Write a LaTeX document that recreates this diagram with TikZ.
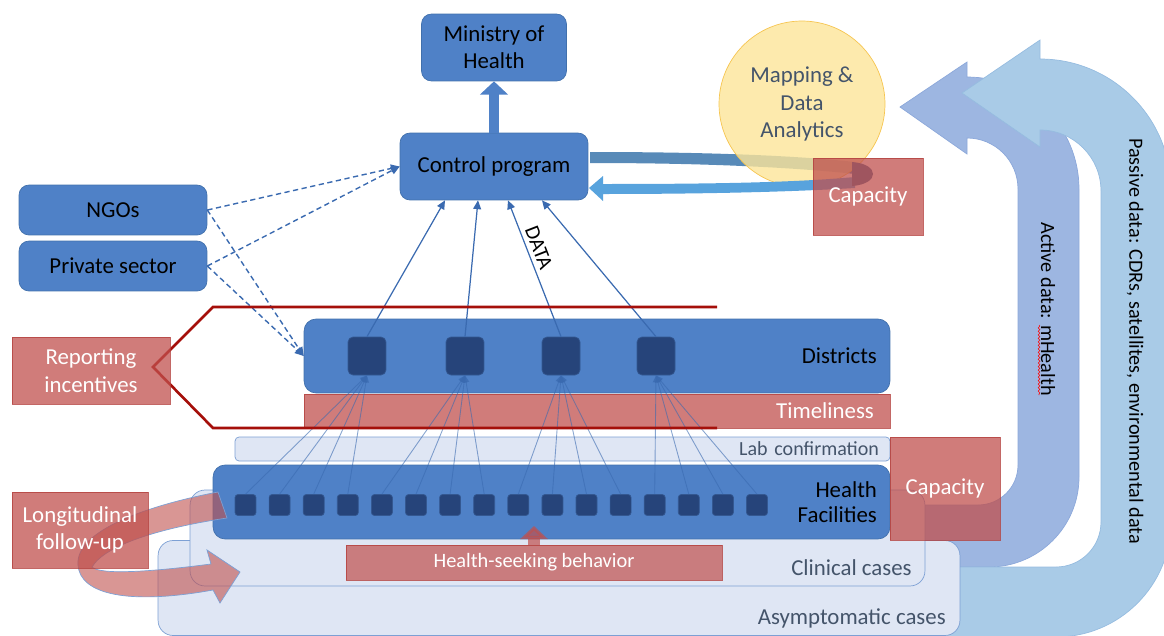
\documentclass[tikz,border=0pt]{standalone}
\usepackage{fontspec}
\setmainfont{Carlito}
\usepackage{tikz}
\usepackage{xcolor}
\usetikzlibrary{arrows,arrows.meta,backgrounds,shapes,decorations.pathmorphing}
\definecolor{boxblue}{RGB}{79,129,199}
\definecolor{boxline}{RGB}{65,112,172}
\definecolor{sqdark}{RGB}{38,68,122}
\definecolor{sqline}{RGB}{52,88,145}
\definecolor{redfill}{RGB}{192,80,77}
\definecolor{redline}{RGB}{180,65,62}
\definecolor{hexred}{RGB}{165,15,10}
\definecolor{paleblue}{RGB}{223,230,244}
\definecolor{paleline}{RGB}{125,160,212}
\definecolor{slate}{RGB}{68,84,106}
\definecolor{activeblue}{RGB}{157,182,225}
\definecolor{activeline}{RGB}{140,168,218}
\definecolor{passiveblue}{RGB}{169,203,231}
\definecolor{passiveline}{RGB}{150,188,224}
\definecolor{mapyellow}{RGB}{252,229,153}
\definecolor{mapline}{RGB}{246,197,80}
\definecolor{uptop}{RGB}{88,138,184}
\definecolor{upback}{RGB}{88,163,221}
\definecolor{upend}{RGB}{62,100,150}
\definecolor{linkblue}{RGB}{58,106,176}
\tikzstyle{bluebox}	=[rectangle, rounded corners=0.2cm, draw=boxline, fill=boxblue, line width=0.4pt, inner sep=0pt, align=center, font=\fontsize{13}{15.6}\selectfont]
\tikzstyle{redbox}	=[rectangle, draw=redline, fill=redfill, fill opacity=0.75, draw opacity=0.8, text opacity=1, text=white, line width=0.4pt, inner sep=0pt, align=center, font=\fontsize{13}{15.6}\selectfont]
\tikzstyle{palebox}	=[rectangle, rounded corners=0.3cm, draw=paleline, fill=paleblue, line width=0.4pt, inner sep=0pt]
\tikzstyle{distsq}	=[rectangle, rounded corners=0.1cm, draw=sqline, fill=sqdark, minimum size=0.76cm, inner sep=0pt]
\tikzstyle{facsq}	=[rectangle, rounded corners=0.06cm, draw=sqline, fill=sqdark, minimum size=0.42cm, inner sep=0pt]
\tikzstyle{casetext}	=[inner sep=0pt, text=slate, font=\fontsize{13}{15.6}\selectfont]
\tikzstyle{sidetext}	=[inner sep=0pt, text=black, rotate=-90, font=\fontsize{11.5}{13.8}\selectfont]
\tikzstyle{datatext}	=[inner sep=2.5pt, text=black, font=\fontsize{12}{14}\selectfont]
\tikzstyle{mapnode}	=[circle, draw=mapline, fill=mapyellow, fill opacity=0.8, text opacity=1, text=slate, minimum size=3.32cm, inner sep=0pt, align=center, font=\fontsize{13}{15.6}\selectfont]
\tikzstyle{edgefac}	=[draw, -{Triangle[length=4pt,width=3.5pt]}, linkblue, opacity=0.6, line width=0.5pt]
\tikzstyle{edgeup}	=[draw, -{Triangle[length=5pt,width=4.5pt]}, linkblue, line width=0.7pt]
\tikzstyle{edgedash}	=[draw, -{Triangle[length=5pt,width=4.5pt]}, linkblue, line width=0.8pt, dash pattern=on 3pt off 2pt]
\tikzstyle{edgefat}	=[draw, -{Triangle[length=7.5pt,width=15.5pt]}, boxblue, line width=6.2pt]
\tikzstyle{edgehs}	=[draw, -{Triangle[length=7.4pt,width=15.3pt]}, redfill, opacity=0.7, line width=7pt]
\tikzstyle{hexline}	=[draw, hexred, line width=1.5pt]
\tikzstyle{loopband}	=[fill=redfill, fill opacity=0.6, draw=paleline, line width=0.4pt]
\tikzstyle{loopup}	=[fill=uptop]
\tikzstyle{loopback}	=[fill=upback]
\tikzstyle{loopend}	=[fill=upend]
\tikzstyle{bandA}	=[fill=activeblue, draw=activeline, line width=0.4pt]
\tikzstyle{bandP}	=[fill=passiveblue, draw=passiveline, line width=0.4pt]
\tikzstyle{squig}	=[draw, red, line width=0.3pt, decorate, decoration={snake, amplitude=0.5pt, segment length=2pt}]
\begin{document}
\begin{tikzpicture}[x=0.02cm, y=-0.02cm]
   		\useasboundingbox (0,0) rectangle (1164,636);
   		
   		%%%%% Data streams (right)
   		\path[bandA] (910,505) -- (978,505) .. controls (1000.1,505) and (1018,487.1) .. (1018,465) -- (1018,189) .. controls (1018,160.8) and (995.2,138) .. (967,138) -- (967,154) -- (900,107) -- (967,62) -- (967,77) .. controls (1028.9,77) and (1079,127.1) .. (1079,189) -- (1079,477) .. controls (1079,526.7) and (1038.7,567) .. (989,567) -- (910,567) -- cycle;
   		\path[bandP] (940,567) -- (1056,567) .. controls (1080.9,567) and (1101,546.9) .. (1101,522) -- (1101,191) .. controls (1101,157.3) and (1073.7,130) .. (1040,130) -- (1040,147) -- (962,93) -- (1040,40) -- (1040,59) .. controls (1112.3,59) and (1171,117.7) .. (1171,190) -- (1171,522) .. controls (1171,585.5) and (1119.5,637) .. (1056,637) -- (940,637) -- cycle;
   		\node[sidetext] (acttxt) at (1048,309) {Active data: mHealth};
   		\node[sidetext] (pastxt) at (1135,341) {Passive data: CDRs, satellites, environmental data};
   		\path[squig] (1039,325) -- (1039,395);
   		
   		%%%%% Cases
   		\node[palebox, minimum width=16.04cm, minimum height=1.9cm] (asym) at (559,588) {};
   		\node[casetext, anchor=east] (asymtxt) at (946,618) {Asymptomatic cases};
   		\node[palebox, minimum width=14.7cm, minimum height=1.92cm] (clin) at (557.5,538) {};
   		\node[casetext, anchor=east] (clintxt) at (912,568) {Clinical cases};
   		
   		%%%%% Levels
   		\node[palebox, rounded corners=0.08cm, minimum width=13.1cm, minimum height=0.48cm, text width=12.66cm, inner xsep=0.22cm, align=right, text=slate, font=\fontsize{11.4}{13}\selectfont] (lab) at (562.5,449) {Lab confirmation};
   		\node[bluebox, rounded corners=0.24cm, minimum width=13.54cm, minimum height=1.48cm, text width=13.02cm, inner xsep=0.26cm, align=right, font=\fontsize{13}{14.2}\selectfont] (hf) at (551.5,502) {Health\\Facilities};
   		\node[redbox, minimum width=11.72cm, minimum height=0.68cm, text width=11.08cm, inner xsep=0.32cm, align=right] (time) at (597,411) {Timeliness};
   		\node[bluebox, rounded corners=0.24cm, minimum width=11.72cm, minimum height=1.48cm, text width=11.2cm, inner xsep=0.26cm, align=right] (dist) at (597,356) {Districts};
   		
   		\foreach \pos/\name in {{(367,356)/d1}, {(465,356)/d2}, {(561,356)/d3}, {(656,356)/d4}}
   		\node[distsq] (\name) at \pos {};
   		
   		\foreach \i in {1,...,16}
   		\node[facsq] (f\i) at ({245.5+34.1*(\i-1)},505) {};
   		
   		%%%%% Top boxes
   		\node[bluebox, minimum width=2.9cm, minimum height=1.34cm] (moh) at (494,47.5) {Ministry of\\Health};
   		\node[bluebox, minimum width=3.76cm, minimum height=1.34cm] (ctrl) at (494,166.5) {Control program};
   		\node[bluebox, minimum width=3.76cm, minimum height=1.0cm] (ngo) at (113,210) {NGOs};
   		\node[bluebox, minimum width=3.76cm, minimum height=1.0cm] (priv) at (113,266) {Private sector};
   		
   		%%%%% Reporting chain
   		\foreach \source/ \dest in {f1/d1,f2/d1,f3/d1,f4/d1}	\path[edgefac] (\source.north) -- (\dest.south) ;
   		\foreach \source/ \dest in {f5/d2,f6/d2,f7/d2,f8/d2}	\path[edgefac] (\source.north) -- (\dest.south) ;
   		\foreach \source/ \dest in {f9/d3,f10/d3,f11/d3,f12/d3}	\path[edgefac] (\source.north) -- (\dest.south) ;
   		\foreach \source/ \dest in {f13/d4,f14/d4,f15/d4,f16/d4}	\path[edgefac] (\source.north) -- (\dest.south) ;
   		\foreach \name/ \shift in {d1/-0.98cm,d2/-0.32cm,d3/0.28cm,d4/0.96cm}	\path[edgeup] (\name.north) -- ([xshift=\shift]ctrl.south) ;
   		\path (d3.north) -- ([xshift=0.28cm]ctrl.south) node[datatext, pos=0.62, sloped, above] (datalbl) {DATA};
   		\path[edgefat] (ctrl.north) -- (moh.south);
   		\foreach \source/ \dest in {ngo/ctrl.west,priv/ctrl.west,ngo/dist.west,priv/dist.west}	\path[edgedash] (\source.east) -- (\dest) ;
   		
   		%%%%% Incentives
   		\draw[hexline] (717,307) -- (213,307) -- (153,367) -- (213,428) -- (717,428);
   		\node[redbox, minimum width=3.16cm, minimum height=1.34cm] (rep) at (91,370.5) {Reporting\\incentives};
   		
   		%%%%% Health-seeking
   		\node[redbox, fill opacity=0.7, minimum width=7.52cm, minimum height=0.7cm, font=\fontsize{11.6}{14}\selectfont] (hsb) at (534,562.5) {Health-seeking behavior};
   		\coordinate (hstip) at (534,526);
   		\path[edgehs] (hsb.north) -- (hstip);
   		
   		%%%%% Follow-up
   		\path[loopband] (218,492) .. controls (150,505) and (75,530) .. (78,565) .. controls (80,595) and (130,605) .. (213,590) -- (220,603) -- (240,572) -- (207,550) -- (211,564) .. controls (150,572) and (100,575) .. (92,567) .. controls (105,545) and (160,528) .. (227,518) -- cycle;
   		\node[redbox, minimum width=2.72cm, minimum height=1.52cm] (lon) at (80,530) {Longitudinal\\follow-up};
   		
   		%%%%% Analytics loop
   		\path[loopup] (590,152) .. controls (700,152) and (790,155) .. (855,162) -- (855,174) .. controls (790,167) and (700,163) .. (590,163) -- cycle;
   		\node[mapnode] (map) at (802,104) {Mapping \&\\Data\\Analytics};
   		\path[loopback] (855,177) .. controls (790,183) and (700,184) .. (603,184) -- (603,176) -- (589,188) -- (603,201) -- (603,194) .. controls (700,194) and (790,192) .. (855,188) -- cycle;
   		\path[loopend] (852,162) .. controls (880,164) and (880,184) .. (852,186) -- cycle;
   		
   		%%%%% Capacity
   		\node[redbox, minimum width=2.2cm, minimum height=1.54cm] (capA) at (868,196.5) {Capacity};
   		\node[redbox, minimum width=2.2cm, minimum height=2.06cm] (capB) at (945,488.5) {Capacity};
\end{tikzpicture}
\end{document}
